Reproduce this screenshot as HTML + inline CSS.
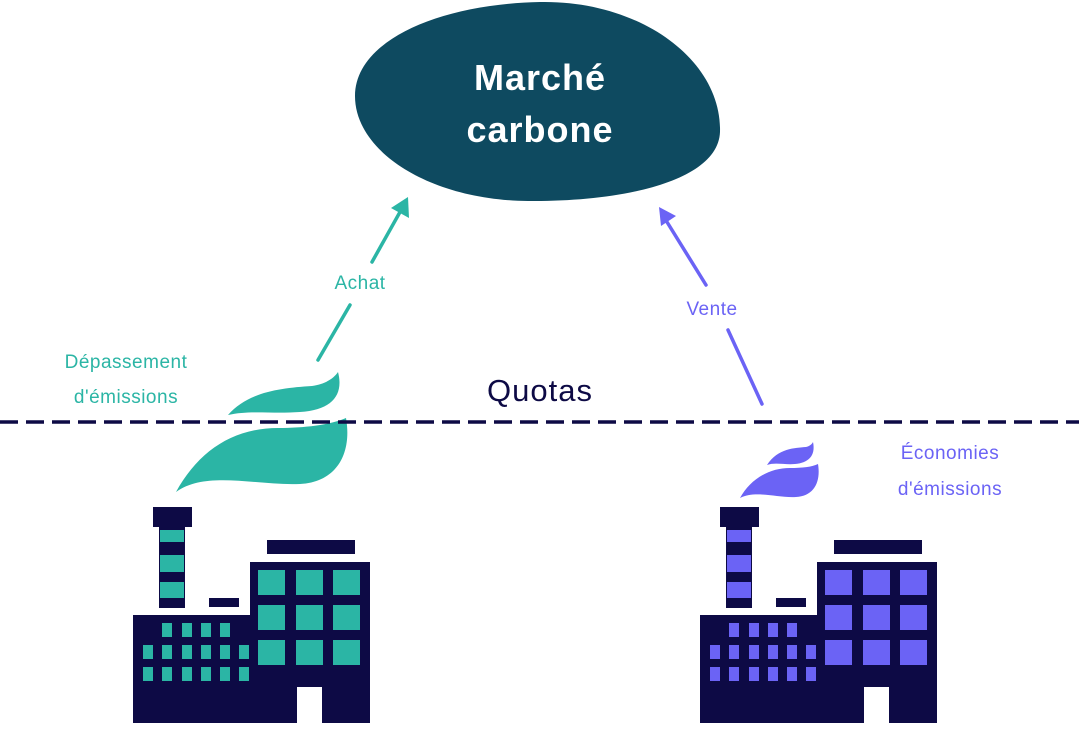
<!DOCTYPE html>
<html><head><meta charset="utf-8"><style>
html,body{margin:0;padding:0;background:#fff;}
svg{display:block}
text{font-family:"Liberation Sans","DejaVu Sans",sans-serif}
</style></head><body>
<svg width="1079" height="748" viewBox="0 0 1079 748" xmlns="http://www.w3.org/2000/svg">
<defs>
<g id="fac">
  <rect x="153" y="507" width="39" height="20" fill="#0d0a45"/>
  <rect x="159" y="520" width="26" height="88" fill="#0d0a45"/>
  <rect x="133" y="615" width="120" height="108" fill="#0d0a45"/>
  <rect x="250" y="562" width="120" height="161" fill="#0d0a45"/>
  <rect x="267" y="540" width="88" height="14" fill="#0d0a45"/>
  <rect x="209" y="598" width="30" height="9" fill="#0d0a45"/>
  <rect x="297" y="687" width="25" height="36" fill="#fff"/>
</g>
</defs>

<path d="M540 2 C640 0 722 60 720 132 C718 182 620 202 528 201 C430 200 355 152 355 96 C355 40 440 4 540 2 Z" fill="#0e4a60"/>
<text x="540" y="90" text-anchor="middle" font-size="36" font-weight="bold" fill="#fff" letter-spacing="1">Marché</text>
<text x="540" y="142" text-anchor="middle" font-size="36" font-weight="bold" fill="#fff" letter-spacing="1">carbone</text>

<g stroke="#2bb5a5" stroke-width="3.5" fill="none" stroke-linecap="round">
  <line x1="318" y1="360" x2="350" y2="305"/>
  <line x1="372" y1="262" x2="400" y2="212"/>
</g>
<polygon points="408,197 409,218 391,208" fill="#2bb5a5"/>
<text x="360" y="289" text-anchor="middle" font-size="19" fill="#2bb5a5" letter-spacing="0.5">Achat</text>
<g stroke="#6b63f5" stroke-width="3.5" fill="none" stroke-linecap="round">
  <line x1="762" y1="404" x2="728" y2="330"/>
  <line x1="706" y1="285" x2="667" y2="222"/>
</g>
<polygon points="659,207 676,216 661,226" fill="#6b63f5"/>
<text x="712" y="315" text-anchor="middle" font-size="19" fill="#6b63f5" letter-spacing="0.5">Vente</text>

<text x="126" y="368" text-anchor="middle" font-size="19" fill="#2bb5a5" letter-spacing="0.5">Dépassement</text>
<text x="126" y="403" text-anchor="middle" font-size="19" fill="#2bb5a5" letter-spacing="0.5">d'émissions</text>
<text x="950" y="459" text-anchor="middle" font-size="19" fill="#6b63f5" letter-spacing="0.5">Économies</text>
<text x="950" y="495" text-anchor="middle" font-size="19" fill="#6b63f5" letter-spacing="0.5">d'émissions</text>

<text x="540" y="401" text-anchor="middle" font-size="31" fill="#0d0a45" letter-spacing="1">Quotas</text>

<path d="M228 415 C248 392 280 388 312 386 C326 384 334 378 338 372 C344 395 332 410 300 412 C270 414 250 410 228 415 Z" fill="#2bb5a5"/>
<path d="M176 492 C198 452 232 428 278 428 C304 428 330 425 346 418 C352 452 338 482 300 484 C258 486 206 470 176 492 Z" fill="#2bb5a5"/>
<path d="M767 465 C778 448 795 448 806 447 C810 446 812 444 813 442 C816 456 808 463 795 464 C785 465 775 462 767 465 Z" fill="#6b63f5"/>
<path d="M740 498 C750 480 768 468 790 468 C802 468 812 467 818 464 C821 482 814 496 796 497 C776 498 756 490 740 498 Z" fill="#6b63f5"/>

<line x1="0" y1="422" x2="1079" y2="422" stroke="#0d0a45" stroke-width="3.5" stroke-dasharray="18 8"/>

<g>
<use href="#fac"/>
<g fill="#2bb5a5">
  <rect x="160" y="530" width="24" height="12"/><rect x="160" y="555" width="24" height="17"/><rect x="160" y="582" width="24" height="16"/>
  <rect x="258" y="570" width="27" height="25"/><rect x="296" y="570" width="27" height="25"/><rect x="333" y="570" width="27" height="25"/>
  <rect x="258" y="605" width="27" height="25"/><rect x="296" y="605" width="27" height="25"/><rect x="333" y="605" width="27" height="25"/>
  <rect x="258" y="640" width="27" height="25"/><rect x="296" y="640" width="27" height="25"/><rect x="333" y="640" width="27" height="25"/>
  <rect x="162" y="623" width="10" height="14"/><rect x="182" y="623" width="10" height="14"/><rect x="201" y="623" width="10" height="14"/><rect x="220" y="623" width="10" height="14"/>
  <rect x="143" y="645" width="10" height="14"/><rect x="162" y="645" width="10" height="14"/><rect x="182" y="645" width="10" height="14"/><rect x="201" y="645" width="10" height="14"/><rect x="220" y="645" width="10" height="14"/><rect x="239" y="645" width="10" height="14"/>
  <rect x="143" y="667" width="10" height="14"/><rect x="162" y="667" width="10" height="14"/><rect x="182" y="667" width="10" height="14"/><rect x="201" y="667" width="10" height="14"/><rect x="220" y="667" width="10" height="14"/><rect x="239" y="667" width="10" height="14"/>
</g>
</g>
<g transform="translate(567,0)">
<use href="#fac"/>
<g fill="#6b63f5">
  <rect x="160" y="530" width="24" height="12"/><rect x="160" y="555" width="24" height="17"/><rect x="160" y="582" width="24" height="16"/>
  <rect x="258" y="570" width="27" height="25"/><rect x="296" y="570" width="27" height="25"/><rect x="333" y="570" width="27" height="25"/>
  <rect x="258" y="605" width="27" height="25"/><rect x="296" y="605" width="27" height="25"/><rect x="333" y="605" width="27" height="25"/>
  <rect x="258" y="640" width="27" height="25"/><rect x="296" y="640" width="27" height="25"/><rect x="333" y="640" width="27" height="25"/>
  <rect x="162" y="623" width="10" height="14"/><rect x="182" y="623" width="10" height="14"/><rect x="201" y="623" width="10" height="14"/><rect x="220" y="623" width="10" height="14"/>
  <rect x="143" y="645" width="10" height="14"/><rect x="162" y="645" width="10" height="14"/><rect x="182" y="645" width="10" height="14"/><rect x="201" y="645" width="10" height="14"/><rect x="220" y="645" width="10" height="14"/><rect x="239" y="645" width="10" height="14"/>
  <rect x="143" y="667" width="10" height="14"/><rect x="162" y="667" width="10" height="14"/><rect x="182" y="667" width="10" height="14"/><rect x="201" y="667" width="10" height="14"/><rect x="220" y="667" width="10" height="14"/><rect x="239" y="667" width="10" height="14"/>
</g>
</g>
</svg>
</body></html>
